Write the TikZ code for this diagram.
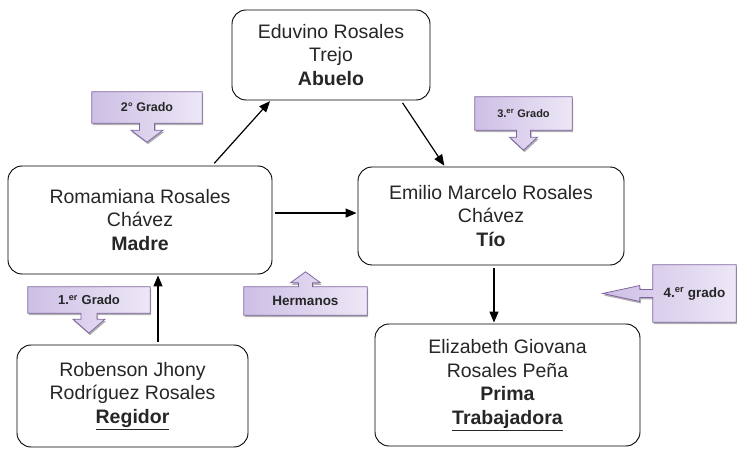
\documentclass[tikz,border=0pt]{standalone}
\usepackage{fontspec}
\setmainfont{Liberation Sans}
\usetikzlibrary{arrows.meta,calc,shadows,backgrounds}
\definecolor{lavBorde}{HTML}{8064A2}
\definecolor{lavOsc}{HTML}{CDBFE5}
\definecolor{lavCla}{HTML}{EDE7F6}
\definecolor{tinta}{HTML}{262626}

\begin{document}
\begin{tikzpicture}[x=1pt,y=-1pt,
  caja/.style = {draw, rounded corners=14pt, line width=0.9pt, align=center,
    text=tinta, inner sep=0pt, font=\fontsize{19.5}{23.5}\selectfont},
  grado/.style = {inner sep=0pt, text=tinta, font=\bfseries\fontsize{12.5}{14}\selectfont},
  globo/.style = {draw=lavBorde, line width=0.8pt, left color=lavOsc, right color=lavCla,
    drop shadow={shadow xshift=1pt, shadow yshift=-2pt, fill=gray!75, opacity=0.8}},
  flecha/.style = {line width=1.2pt, -{Triangle[length=11pt,width=9pt]},
    shorten <=3pt, shorten >=1pt}]
  \useasboundingbox (0,0) rectangle (737,449);

  \node[caja, minimum width=198pt, minimum height=90pt] (abuelo) at (331,55)
    {Eduvino Rosales\\Trejo\\\textbf{Abuelo}};
  \node[caja, minimum width=264pt, minimum height=108pt] (madre) at (140,220)
    {Romamiana Rosales\\Chávez\\\textbf{Madre}};
  \node[caja, minimum width=266pt, minimum height=98pt] (tio) at (491,216)
    {Emilio Marcelo Rosales\\Chávez\\\textbf{Tío}};
  \node[caja, minimum width=231pt, minimum height=102pt] (robenson) at (132.5,396)
    {Robenson Jhony\\Rodríguez Rosales\\\underline{\textbf{Regidor}}};
  \node[caja, minimum width=265pt, minimum height=122pt] (prima) at (507.5,385)
    {Elizabeth Giovana\\Rosales Peña\\\textbf{Prima}\\\underline{\textbf{Trabajadora}}};

  \coordinate (rob top) at ($(robenson.north)+(25.5,0)$);
  \coordinate (tio pie) at ($(tio.south)+(3,0)$);
  \draw[flecha] (madre.37) -- (abuelo.217);
  \draw[flecha] (abuelo.327.6) -- (tio.133);
  \draw[flecha] (madre.3) -- (madre.3 -| tio.west);
  \draw[flecha] (rob top) -- (rob top |- madre.south);
  \draw[flecha] (tio pie) -- (tio pie |- prima.north);

  \node[grado, minimum width=110pt, minimum height=31pt] (g2) at (147,107.5) {2° Grado};
  \node[grado, minimum width=97pt, minimum height=33pt, font=\bfseries\fontsize{11}{12}\selectfont]
    (g3) at (523.5,113.5) {3.\textsuperscript{er} Grado};
  \node[grado, minimum width=122pt, minimum height=26pt, font=\bfseries\fontsize{13}{15}\selectfont]
    (g1) at (89,300) {1.\textsuperscript{er} Grado};
  \node[grado, minimum width=123pt, minimum height=28pt, font=\bfseries\fontsize{13.5}{15}\selectfont]
    (hermanos) at (305.5,301) {Hermanos};
  \node[grado, minimum width=83pt, minimum height=57pt, font=\bfseries\fontsize{13.5}{15}\selectfont]
    (g4) at (694.5,293.5) {4.\textsuperscript{er} grado};

  \begin{scope}[on background layer]
    \path[globo] (g2.north west) -- (g2.north east) -- (g2.south east) -- ($(g2.south)+(7.5,0)$)
      -- ++(0,7) -- ++(8.5,0) -- ($(g2.south)+(0,19)$) -- ($(g2.south)+(-16,7)$) -- ++(8.5,0)
      -- ($(g2.south)+(-7.5,0)$) -- (g2.south west) -- cycle;
    \path[globo] (g3.north west) -- (g3.north east) -- (g3.south east) -- ($(g3.south)+(7,0)$)
      -- ++(0,7) -- ++(7,0) -- ($(g3.south)+(0,20)$) -- ($(g3.south)+(-14,7)$) -- ++(7,0)
      -- ($(g3.south)+(-7,0)$) -- (g3.south west) -- cycle;
    \path[globo] (g1.north west) -- (g1.north east) -- (g1.south east) -- ($(g1.south)+(8,0)$)
      -- ++(0,6) -- ++(8,0) -- ($(g1.south)+(0,20)$) -- ($(g1.south)+(-16,6)$) -- ++(8,0)
      -- ($(g1.south)+(-8,0)$) -- (g1.south west) -- cycle;
    \path[globo] (hermanos.south west) -- (hermanos.south east) -- (hermanos.north east)
      -- ($(hermanos.north)+(7,0)$) -- ++(0,-4) -- ++(8,0) -- ($(hermanos.north)+(0,-15)$)
      -- ($(hermanos.north)+(-15,-4)$) -- ++(8,0) -- ($(hermanos.north)+(-7,0)$)
      -- (hermanos.north west) -- cycle;
    \path[globo] (g4.north east) -- (g4.south east) -- (g4.south west) -- ($(g4.west)+(0,4)$)
      -- ++(-13,0) -- ++(0,4) -- ($(g4.west)+(-50,0)$) -- ($(g4.west)+(-13,-8)$) -- ++(0,4)
      -- ($(g4.west)+(0,-4)$) -- (g4.north west) -- cycle;
  \end{scope}
\end{tikzpicture}
\end{document}
